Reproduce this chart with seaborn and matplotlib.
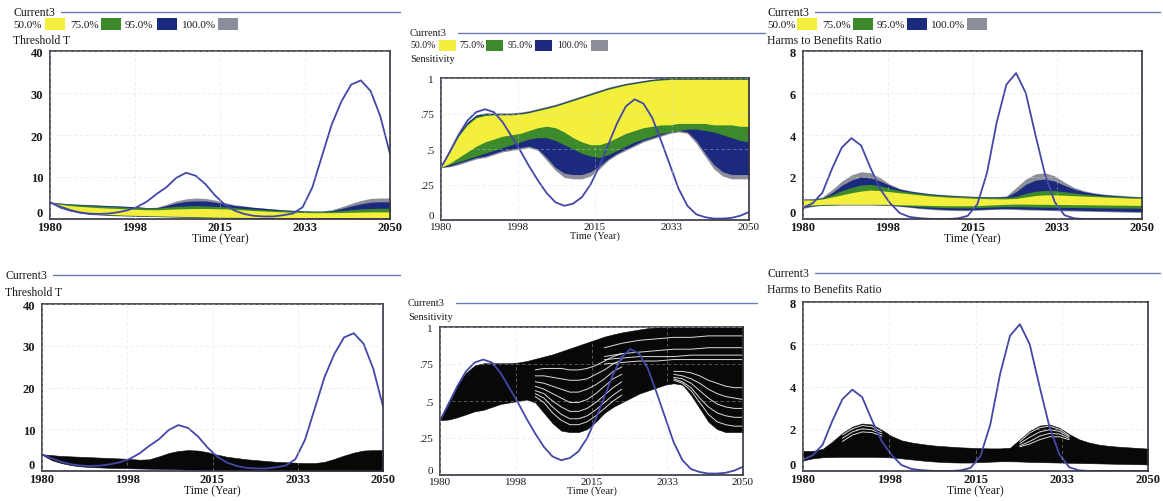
import matplotlib
matplotlib.use("Agg")
import matplotlib.pyplot as plt
from matplotlib.lines import Line2D
from matplotlib.patches import Rectangle
import seaborn as sns

sns.set_theme(style="white")
plt.rcParams["font.family"] = ["Liberation Serif", "DejaVu Serif"]

# ---------------------------------------------------------------- data
years = list(range(1980, 2051, 2))

band_labels = ["50.0%", "75.0%", "95.0%", "100.0%"]

# Threshold T
thr_current = [4.0, 3.0, 2.2, 1.6, 1.3, 1.2, 1.3, 1.6, 2.1, 2.9, 4.2, 6.0,
               7.6, 9.8, 11.0, 10.3, 8.3, 5.6, 3.4, 2.0, 1.2, 0.75, 0.6, 0.6,
               0.9, 1.3, 2.8, 7.5, 15.0, 22.5, 28.0, 32.0, 33.0, 30.5, 24.5, 15.5]
thr_lo100 = [3.9, 2.6, 1.9, 1.4, 1.1, 0.95, 0.85, 0.75, 0.7, 0.65, 0.6, 0.55,
             0.5, 0.45, 0.4, 0.35, 0.3, 0.27, 0.24, 0.2, 0.18, 0.15, 0.13, 0.12,
             0.1, 0.09, 0.08, 0.08, 0.07, 0.07, 0.06, 0.06, 0.05, 0.05, 0.05, 0.05]
thr_lo95 = [3.9, 2.7, 2.0, 1.5, 1.2, 1.05, 0.95, 0.85, 0.78, 0.72, 0.67, 0.62,
            0.57, 0.52, 0.47, 0.42, 0.37, 0.33, 0.3, 0.26, 0.23, 0.2, 0.18, 0.17,
            0.15, 0.14, 0.13, 0.13, 0.12, 0.12, 0.11, 0.11, 0.1, 0.1, 0.1, 0.1]
thr_lo75 = [3.9, 2.8, 2.1, 1.6, 1.3, 1.12, 1.02, 0.92, 0.84, 0.78, 0.73, 0.68,
            0.63, 0.58, 0.53, 0.48, 0.43, 0.39, 0.35, 0.32, 0.29, 0.26, 0.24, 0.23,
            0.21, 0.2, 0.19, 0.19, 0.18, 0.18, 0.17, 0.17, 0.16, 0.16, 0.16, 0.16]
thr_lo50 = [3.9, 2.9, 2.2, 1.7, 1.4, 1.2, 1.1, 1.0, 0.9, 0.85, 0.8, 0.75,
            0.7, 0.65, 0.6, 0.55, 0.5, 0.45, 0.42, 0.4, 0.38, 0.36, 0.35, 0.34,
            0.33, 0.32, 0.31, 0.31, 0.3, 0.3, 0.3, 0.3, 0.3, 0.3, 0.3, 0.3]
thr_hi50 = [3.9, 3.5, 3.2, 3.0, 2.85, 2.7, 2.6, 2.5, 2.4, 2.3, 2.2, 2.2,
            2.3, 2.4, 2.45, 2.5, 2.5, 2.45, 2.4, 2.3, 2.15, 2.0, 1.9, 1.8,
            1.7, 1.6, 1.55, 1.5, 1.5, 1.5, 1.55, 1.6, 1.65, 1.7, 1.7, 1.7]
thr_hi75 = [3.95, 3.7, 3.5, 3.35, 3.2, 3.1, 3.0, 2.9, 2.8, 2.7, 2.6, 2.6,
            2.8, 3.0, 3.1, 3.2, 3.1, 3.0, 2.9, 2.7, 2.5, 2.35, 2.2, 2.1,
            2.0, 1.9, 1.85, 1.8, 1.8, 1.85, 2.0, 2.2, 2.4, 2.5, 2.55, 2.55]
thr_hi95 = [4.0, 3.8, 3.6, 3.5, 3.4, 3.3, 3.2, 3.1, 3.0, 2.9, 2.7, 2.7,
            3.2, 3.8, 4.2, 4.3, 4.3, 4.0, 3.6, 3.2, 3.0, 2.75, 2.55, 2.35,
            2.15, 2.05, 1.95, 1.85, 1.85, 2.0, 2.5, 3.1, 3.6, 4.0, 4.1, 4.1]
thr_hi100 = [4.0, 3.8, 3.6, 3.5, 3.4, 3.3, 3.2, 3.1, 3.0, 2.9, 2.7, 2.8,
             3.5, 4.3, 4.8, 5.0, 4.9, 4.5, 3.9, 3.4, 3.1, 2.8, 2.6, 2.4,
             2.2, 2.1, 2.0, 1.9, 1.9, 2.2, 2.9, 3.7, 4.4, 4.9, 5.0, 5.0]

# Sensitivity
sens_current = [0.37, 0.48, 0.60, 0.70, 0.76, 0.78, 0.76, 0.69, 0.59, 0.49, 0.38, 0.28,
                0.19, 0.125, 0.10, 0.115, 0.16, 0.25, 0.38, 0.53, 0.68, 0.80, 0.85, 0.82,
                0.72, 0.56, 0.39, 0.22, 0.10, 0.04, 0.02, 0.01, 0.01, 0.015, 0.03, 0.056]
sens_lo100 = [0.37, 0.375, 0.39, 0.41, 0.43, 0.44, 0.46, 0.48, 0.49, 0.5, 0.51, 0.49,
              0.42, 0.35, 0.3, 0.29, 0.29, 0.31, 0.36, 0.42, 0.46, 0.49, 0.52, 0.55,
              0.57, 0.59, 0.61, 0.62, 0.61, 0.54, 0.45, 0.36, 0.31, 0.29, 0.29, 0.29]
sens_lo95 = [0.37, 0.38, 0.4, 0.42, 0.44, 0.45, 0.47, 0.49, 0.5, 0.51, 0.52, 0.5,
             0.44, 0.37, 0.33, 0.32, 0.32, 0.34, 0.38, 0.43, 0.47, 0.5, 0.53, 0.56,
             0.58, 0.6, 0.62, 0.63, 0.62, 0.56, 0.47, 0.39, 0.34, 0.32, 0.32, 0.32]
sens_lo75 = [0.37, 0.39, 0.41, 0.43, 0.45, 0.47, 0.49, 0.51, 0.53, 0.55, 0.57, 0.58,
             0.58, 0.56, 0.53, 0.5, 0.47, 0.45, 0.44, 0.46, 0.49, 0.52, 0.55, 0.57,
             0.59, 0.61, 0.62, 0.63, 0.64, 0.64, 0.63, 0.62, 0.6, 0.58, 0.56, 0.55]
sens_lo50 = [0.37, 0.4, 0.44, 0.48, 0.52, 0.55, 0.57, 0.59, 0.6, 0.61, 0.63, 0.65,
             0.66, 0.65, 0.62, 0.58, 0.55, 0.53, 0.53, 0.55, 0.58, 0.61, 0.63, 0.65,
             0.66, 0.67, 0.67, 0.68, 0.68, 0.68, 0.68, 0.67, 0.67, 0.67, 0.66, 0.66]
sens_hi50 = [0.37, 0.48, 0.59, 0.67, 0.72, 0.735, 0.74, 0.74, 0.74, 0.745, 0.755, 0.77,
             0.785, 0.8, 0.82, 0.84, 0.86, 0.88, 0.9, 0.92, 0.935, 0.95, 0.96, 0.97,
             0.98, 0.985, 0.99, 0.99, 0.99, 0.99, 0.99, 0.99, 0.99, 0.99, 0.99, 0.99]
sens_hi75 = [0.37, 0.49, 0.6, 0.68, 0.73, 0.743, 0.745, 0.745, 0.745, 0.75, 0.76, 0.775,
             0.79, 0.805, 0.825, 0.845, 0.865, 0.885, 0.905, 0.925, 0.94, 0.955, 0.965, 0.975,
             0.985, 0.99, 0.995, 0.995, 0.995, 0.995, 0.995, 0.995, 0.995, 0.995, 0.995, 0.995]
sens_hi95 = [0.37, 0.5, 0.61, 0.69, 0.74, 0.75, 0.75, 0.75, 0.75, 0.755, 0.765, 0.78,
             0.795, 0.81, 0.83, 0.85, 0.87, 0.89, 0.91, 0.93, 0.945, 0.96, 0.97, 0.98,
             0.99, 0.995, 1.0, 1.0, 1.0, 1.0, 1.0, 1.0, 1.0, 1.0, 1.0, 1.0]
sens_hi100 = [0.37, 0.5, 0.61, 0.69, 0.74, 0.755, 0.755, 0.755, 0.755, 0.76, 0.77, 0.785,
              0.8, 0.815, 0.835, 0.855, 0.875, 0.895, 0.915, 0.935, 0.95, 0.963, 0.973, 0.983,
              0.992, 0.997, 1.0, 1.0, 1.0, 1.0, 1.0, 1.0, 1.0, 1.0, 1.0, 1.0]

# Harms to Benefits Ratio
harm_current = [0.54, 0.75, 1.25, 2.4, 3.4, 3.85, 3.5, 2.4, 1.4, 0.75, 0.28, 0.1,
                0.04, 0.01, 0.0, 0.0, 0.03, 0.15, 0.7, 2.2, 4.6, 6.4, 6.95, 6.0,
                4.0, 2.1, 0.8, 0.18, 0.03, 0.0, 0.0, 0.0, 0.0, 0.0, 0.0, 0.0]
harm_lo100 = [0.5, 0.6, 0.65, 0.66, 0.67, 0.67, 0.67, 0.67, 0.66, 0.64, 0.6, 0.55,
              0.5, 0.46, 0.43, 0.41, 0.4, 0.4, 0.42, 0.44, 0.46, 0.46, 0.45, 0.43,
              0.42, 0.41, 0.4, 0.39, 0.38, 0.37, 0.36, 0.35, 0.34, 0.33, 0.32, 0.31]
harm_lo95 = [0.55, 0.62, 0.66, 0.67, 0.68, 0.68, 0.68, 0.68, 0.67, 0.66, 0.62, 0.58,
             0.53, 0.5, 0.47, 0.45, 0.44, 0.44, 0.45, 0.47, 0.49, 0.5, 0.49, 0.47,
             0.46, 0.45, 0.44, 0.43, 0.42, 0.41, 0.4, 0.39, 0.38, 0.37, 0.36, 0.35]
harm_lo75 = [0.6, 0.64, 0.67, 0.68, 0.69, 0.69, 0.69, 0.69, 0.68, 0.67, 0.65, 0.62,
             0.59, 0.57, 0.55, 0.54, 0.53, 0.53, 0.54, 0.56, 0.58, 0.59, 0.59, 0.58,
             0.57, 0.56, 0.56, 0.55, 0.55, 0.54, 0.54, 0.53, 0.53, 0.52, 0.52, 0.51]
harm_lo50 = [0.65, 0.67, 0.69, 0.7, 0.7, 0.7, 0.7, 0.7, 0.7, 0.69, 0.68, 0.67,
             0.66, 0.65, 0.64, 0.63, 0.63, 0.63, 0.64, 0.66, 0.68, 0.7, 0.71, 0.71,
             0.7, 0.7, 0.69, 0.69, 0.68, 0.68, 0.67, 0.67, 0.66, 0.66, 0.65, 0.65]
harm_hi50 = [0.9, 0.9, 0.95, 1.05, 1.15, 1.25, 1.33, 1.38, 1.35, 1.3, 1.25, 1.2,
             1.15, 1.1, 1.07, 1.04, 1.02, 1.0, 0.98, 0.97, 0.96, 0.96, 0.98, 1.05,
             1.12, 1.15, 1.15, 1.13, 1.11, 1.09, 1.07, 1.05, 1.03, 1.01, 0.99, 0.98]
harm_hi75 = [0.93, 0.93, 0.98, 1.15, 1.35, 1.5, 1.62, 1.65, 1.58, 1.45, 1.35, 1.28,
             1.22, 1.17, 1.13, 1.1, 1.08, 1.06, 1.04, 1.03, 1.02, 1.02, 1.08, 1.22,
             1.32, 1.36, 1.35, 1.3, 1.24, 1.18, 1.14, 1.1, 1.08, 1.06, 1.04, 1.02]
harm_hi95 = [0.95, 0.95, 1.0, 1.25, 1.6, 1.85, 2.0, 1.95, 1.8, 1.6, 1.42, 1.33,
             1.26, 1.2, 1.16, 1.13, 1.1, 1.08, 1.06, 1.05, 1.05, 1.06, 1.3, 1.65,
             1.85, 1.9, 1.8, 1.6, 1.42, 1.3, 1.22, 1.16, 1.12, 1.09, 1.06, 1.04]
harm_hi100 = [0.95, 0.95, 1.05, 1.4, 1.8, 2.1, 2.25, 2.2, 1.95, 1.65, 1.45, 1.35,
              1.28, 1.22, 1.18, 1.15, 1.12, 1.1, 1.08, 1.07, 1.07, 1.1, 1.5, 1.9,
              2.15, 2.2, 2.05, 1.75, 1.5, 1.35, 1.25, 1.19, 1.15, 1.12, 1.09, 1.06]

# gaps between individual sensitivity runs (white streaks in the run plots)
sens_gap_years_a = [2002, 2004, 2006, 2008, 2010, 2012, 2014, 2016, 2018, 2020, 2022]
sens_gap_runs_a = [
    [0.53, 0.49, 0.42, 0.37, 0.34, 0.34, 0.36, 0.40, 0.45, 0.50, 0.54],
    [0.55, 0.52, 0.46, 0.41, 0.38, 0.38, 0.40, 0.44, 0.49, 0.54, 0.58],
    [0.57, 0.55, 0.50, 0.46, 0.43, 0.43, 0.45, 0.49, 0.54, 0.59, 0.63],
    [0.60, 0.58, 0.55, 0.52, 0.49, 0.49, 0.51, 0.55, 0.60, 0.65, 0.68],
    [0.63, 0.62, 0.60, 0.58, 0.56, 0.56, 0.58, 0.61, 0.65, 0.70, 0.73],
    [0.67, 0.67, 0.66, 0.65, 0.64, 0.64, 0.65, 0.68, 0.71, 0.75, 0.78],
    [0.71, 0.72, 0.72, 0.72, 0.71, 0.71, 0.72, 0.74, 0.77, 0.80, 0.82],
]
sens_gap_years_b = [2034, 2036, 2038, 2040, 2042, 2044, 2046, 2048, 2050]
sens_gap_runs_b = [
    [0.64, 0.62, 0.57, 0.49, 0.41, 0.36, 0.34, 0.33, 0.33],
    [0.65, 0.63, 0.59, 0.52, 0.46, 0.42, 0.40, 0.39, 0.39],
    [0.66, 0.65, 0.62, 0.57, 0.52, 0.48, 0.46, 0.45, 0.45],
    [0.68, 0.67, 0.65, 0.62, 0.58, 0.55, 0.53, 0.52, 0.51],
    [0.70, 0.70, 0.69, 0.67, 0.64, 0.62, 0.60, 0.59, 0.59],
]
sens_gap_years_c = [2018, 2022, 2026, 2030, 2034, 2038, 2042, 2046, 2050]
sens_gap_runs_c = [
    [0.80, 0.82, 0.83, 0.84, 0.85, 0.85, 0.86, 0.86, 0.86],
    [0.78, 0.79, 0.80, 0.80, 0.80, 0.81, 0.81, 0.81, 0.81],
    [0.86, 0.89, 0.91, 0.92, 0.93, 0.93, 0.94, 0.94, 0.94],
    [0.75, 0.76, 0.77, 0.77, 0.78, 0.78, 0.78, 0.78, 0.78],
]
harm_gap_years_a = [1988, 1990, 1992, 1994, 1996]
harm_gap_runs_a = [
    [1.70, 2.00, 2.15, 2.10, 1.85],
    [1.55, 1.85, 2.00, 1.95, 1.75],
    [1.40, 1.70, 1.85, 1.82, 1.65],
]
harm_gap_years_b = [2024, 2026, 2028, 2030, 2032, 2034]
harm_gap_runs_b = [
    [1.40, 1.80, 2.05, 2.12, 1.98, 1.68],
    [1.30, 1.60, 1.85, 1.95, 1.88, 1.62],
    [1.20, 1.40, 1.65, 1.78, 1.75, 1.55],
    [1.15, 1.28, 1.48, 1.62, 1.62, 1.48],
]

# ---------------------------------------------------------------- style
YELLOW = "#f4ef3c"
GREEN = "#3c8a2c"
NAVY = "#1b2a7e"
GREY = "#8c8e9a"
BLUE = "#4347a8"
FRAME = "#34343f"
HEADER_LINE = "#6f78b8"
BAND_COLORS = [YELLOW, GREEN, NAVY, GREY]

W, H = 1163, 502
fig = plt.figure(figsize=(W / 100, H / 100), dpi=100)
fig.patch.set_facecolor("white")


def fx(x):
    return x / W


def fy(y):
    return 1 - y / H


def ftext(x, y, s, size=8.5, **kw):
    fig.text(fx(x), fy(y), s, ha="left", va="center", fontsize=size,
             color="#1a1a1a", **kw)


def header(x, y, line_end, var_name, var_y, legend=None, size=8.5):
    ftext(x, y, "Current3", size=size)
    fig.add_artist(Line2D([fx(x + 48), fx(line_end)], [fy(y), fy(y)],
                          color=HEADER_LINE, lw=1.0))
    if legend is not None:
        ly, text_x, sw_x, sw_w, sw_h = legend
        for lab, tx, sx, col in zip(band_labels, text_x, sw_x, BAND_COLORS):
            ftext(tx, ly, lab, size=size - 0.5)
            fig.add_artist(Rectangle((fx(sx), fy(ly + sw_h / 2)), sw_w / W, sw_h / H,
                                     facecolor=col, edgecolor="none"))
    ftext(x, var_y, var_name, size=size)


def panel(box, ymax, yticks, ylabels, lo, hi, current, bands=None,
          gaps=(), tick_weight="bold", tick_size=9):
    l, t, r, b = box
    ax = fig.add_axes([fx(l), fy(b), fx(r - l), (b - t) / H])
    ax.set_facecolor("white")
    if bands is not None:
        lo95, lo75, lo50, hi50, hi75, hi95 = bands
        ax.fill_between(years, lo, hi, color=GREY, lw=0)
        ax.fill_between(years, lo95, hi95, color=NAVY, lw=0)
        ax.fill_between(years, lo75, hi75, color=GREEN, lw=0)
        ax.fill_between(years, lo50, hi50, color=YELLOW, lw=0)
    else:
        ax.fill_between(years, lo, hi, color="#080808", lw=0.4, edgecolor="#080808")
        for gx, runs in gaps:
            for run in runs:
                sns.lineplot(x=gx, y=run, ax=ax, color="white", lw=0.7, alpha=0.85)
    sns.lineplot(x=years, y=current, ax=ax, color=BLUE, lw=1.3)

    ax.set_xlim(1980, 2050)
    ax.set_ylim(0, ymax)
    ax.set_xticks([1980, 1997.5, 2015, 2032.5, 2050])
    ax.set_xticklabels(["1980", "1998", "2015", "2033", "2050"])
    ax.set_yticks(yticks)
    ax.set_yticklabels(ylabels)
    ax.set_axisbelow(False)
    ax.grid(True, color="#d4d4d4", lw=0.6, ls=(0, (4, 3)), alpha=0.45)
    ax.tick_params(length=0, labelsize=tick_size, colors="#1a1a1a")
    ax.tick_params(axis="x", pad=1.5)
    ax.tick_params(axis="y", pad=5)
    for lab in ax.get_xticklabels() + ax.get_yticklabels():
        lab.set_fontweight(tick_weight)
    # the zero label sits just above the corner, clear of the first year label
    zero = ax.get_yticklabels()[0]
    zero.set_verticalalignment("bottom")
    ax.set_xlabel("Time (Year)", fontsize=tick_size - 0.5, labelpad=-0.5,
                  color="#1a1a1a")
    ax.set_ylabel("")
    for sp in ax.spines.values():
        sp.set_visible(True)
        sp.set_color(FRAME)
        sp.set_linewidth(1.2)
    return ax


thr_bands = [thr_lo95, thr_lo75, thr_lo50, thr_hi50, thr_hi75, thr_hi95]
sens_bands = [sens_lo95, sens_lo75, sens_lo50, sens_hi50, sens_hi75, sens_hi95]
harm_bands = [harm_lo95, harm_lo75, harm_lo50, harm_hi50, harm_hi75, harm_hi95]

thr_ticks = ([0, 10, 20, 30, 40], ["0", "10", "20", "30", "40"])
sens_ticks = ([0, 0.25, 0.5, 0.75, 1], ["0", ".25", ".5", ".75", "1"])
harm_ticks = ([0, 2, 4, 6, 8], ["0", "2", "4", "6", "8"])

# ---- top row: confidence bands
header(13, 12.5, 400, "Threshold T", 40.5,
       legend=(25, [13, 70, 125, 182], [45, 101, 157, 218], 20, 12))
panel((50, 52, 390, 220), 40, *thr_ticks, thr_lo100, thr_hi100, thr_current,
      bands=thr_bands)

header(410, 34, 765, "Sensitivity", 60,
       legend=(46, [410, 459, 508, 557], [439, 486, 535, 591], 17, 11), size=7.5)
panel((441, 79, 749, 221), 1, *sens_ticks, sens_lo100, sens_hi100, sens_current,
      bands=sens_bands, tick_weight="normal", tick_size=8)

header(767, 12.5, 1160, "Harms to Benefits Ratio", 40.5,
       legend=(25, [767, 822, 877, 931], [797, 853, 907, 967], 20, 12))
panel((803, 52, 1142, 220), 8, *harm_ticks, harm_lo100, harm_hi100, harm_current,
      bands=harm_bands)

# ---- bottom row: individual runs
header(5, 276, 400, "Threshold T", 293)
panel((42, 305, 383, 472), 40, *thr_ticks, thr_lo100, thr_hi100, thr_current)

header(408, 304, 757, "Sensitivity", 317, size=7.5)
panel((440, 328, 743, 476), 1, *sens_ticks, sens_lo100, sens_hi100, sens_current,
      gaps=[(sens_gap_years_a, sens_gap_runs_a),
            (sens_gap_years_b, sens_gap_runs_b),
            (sens_gap_years_c, sens_gap_runs_c)],
      tick_weight="normal", tick_size=8)

header(767, 274, 1160, "Harms to Benefits Ratio", 290)
panel((803, 303, 1148, 472), 8, *harm_ticks, harm_lo100, harm_hi100, harm_current,
      gaps=[(harm_gap_years_a, harm_gap_runs_a),
            (harm_gap_years_b, harm_gap_runs_b)])

fig.savefig("out.png", dpi=100, facecolor="white")
